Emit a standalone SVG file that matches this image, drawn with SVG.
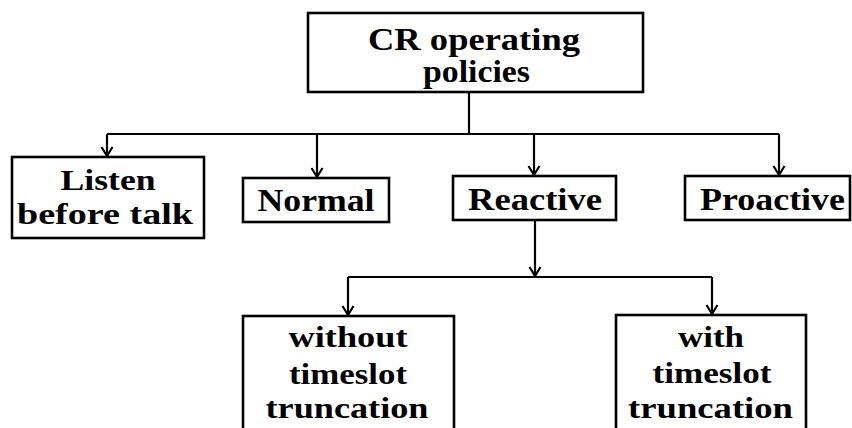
<svg xmlns="http://www.w3.org/2000/svg" width="852" height="428" viewBox="0 0 852 428">
<style>
.box{fill:#fff;stroke:#000;stroke-width:2.6}
.t{font-family:"Liberation Serif","Times New Roman",serif;font-weight:bold;fill:#000;text-anchor:middle}
.c{fill:none;stroke:#000;stroke-width:2.2}
</style>
<defs>
<marker id="arr" markerUnits="userSpaceOnUse" markerWidth="14" markerHeight="14" viewBox="-11 -7 13 14" refX="0" refY="0" orient="auto">
<path d="M-9,-5.5 L0,0 L-9,5.5" fill="none" stroke="#000" stroke-width="2.2"/>
</marker>
</defs>
<rect width="852" height="428" fill="#fff"/>
<g id="connectors">
<path class="c" d="M469,92 V134"/>
<path class="c" d="M107,134 H779"/>
<path class="c" d="M107,134 V156" marker-end="url(#arr)"/>
<path class="c" d="M317,134 V177" marker-end="url(#arr)"/>
<path class="c" d="M534,134 V175" marker-end="url(#arr)"/>
<path class="c" d="M779,134 V175" marker-end="url(#arr)"/>
<path class="c" d="M535,220 V276" marker-end="url(#arr)"/>
<path class="c" d="M348,277 H712"/>
<path class="c" d="M348,277 V315" marker-end="url(#arr)"/>
<path class="c" d="M712,277 V314" marker-end="url(#arr)"/>
</g>
<g id="root">
<rect class="box" x="308" y="13" width="335" height="79"/>
<text class="t" x="474" y="50" font-size="31" textLength="212" lengthAdjust="spacingAndGlyphs">CR operating</text>
<text class="t" x="476.5" y="82" font-size="31" textLength="107" lengthAdjust="spacingAndGlyphs">policies</text>
</g>
<g id="listen">
<rect class="box" x="12" y="157" width="192" height="81"/>
<text class="t" x="108" y="190" font-size="29" textLength="95" lengthAdjust="spacingAndGlyphs">Listen</text>
<text class="t" x="105" y="224" font-size="29" textLength="176" lengthAdjust="spacingAndGlyphs">before talk</text>
</g>
<g id="normal">
<rect class="box" x="243" y="178" width="146" height="44"/>
<text class="t" x="316" y="211" font-size="31" textLength="117" lengthAdjust="spacingAndGlyphs">Normal</text>
</g>
<g id="reactive">
<rect class="box" x="453" y="176" width="163" height="44"/>
<text class="t" x="535" y="210" font-size="31" textLength="134" lengthAdjust="spacingAndGlyphs">Reactive</text>
</g>
<g id="proactive">
<rect class="box" x="685" y="176" width="165" height="44"/>
<text class="t" x="772.5" y="210" font-size="31" textLength="145" lengthAdjust="spacingAndGlyphs">Proactive</text>
</g>
<g id="without">
<rect class="box" x="243" y="316" width="211" height="130"/>
<text class="t" x="348" y="347" font-size="29" textLength="119" lengthAdjust="spacingAndGlyphs">without</text>
<text class="t" x="348" y="384" font-size="29" textLength="118" lengthAdjust="spacingAndGlyphs">timeslot</text>
<text class="t" x="347" y="418" font-size="29" textLength="163" lengthAdjust="spacingAndGlyphs">truncation</text>
</g>
<g id="with">
<rect class="box" x="616" y="315" width="190" height="130"/>
<text class="t" x="711" y="347" font-size="29" textLength="66" lengthAdjust="spacingAndGlyphs">with</text>
<text class="t" x="712" y="383" font-size="29" textLength="119" lengthAdjust="spacingAndGlyphs">timeslot</text>
<text class="t" x="710.5" y="418" font-size="29" textLength="165" lengthAdjust="spacingAndGlyphs">truncation</text>
</g>
</svg>
